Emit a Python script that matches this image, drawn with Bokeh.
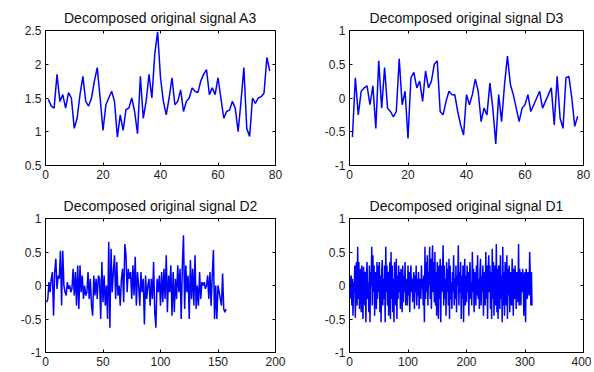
from bokeh.plotting import figure
from bokeh.layouts import column, row
from bokeh.models import Range1d, FixedTicker, LinearAxis
from bokeh.embed import file_html
from bokeh.resources import INLINE

titles = ["Decomposed original signal A3", "Decomposed original signal D3",
          "Decomposed original signal D2", "Decomposed original signal D1"]

a3 = [1.48, 1.38, 1.35, 1.85, 1.45, 1.55, 1.35, 1.58, 1.5, 1.05,
      1.2, 1.55, 1.82, 1.45, 1.38, 1.5, 1.75, 1.95, 1.5, 1.02,
      1.4, 1.5, 1.6, 1.45, 0.92, 1.25, 1.02, 1.33, 1.35, 1.5,
      1.3, 0.97, 1.82, 1.2, 1.45, 1.85, 1.5, 2.15, 2.48, 1.8,
      1.45, 1.25, 1.5, 1.8, 1.4, 1.45, 1.62, 1.3, 1.45, 1.5,
      1.65, 1.6, 1.58, 1.75, 1.85, 1.92, 1.55, 1.65, 1.55, 1.8,
      1.5, 1.2, 1.3, 1.32, 1.45, 1.35, 1.0, 1.45, 1.95, 1.05,
      0.93, 1.5, 1.42, 1.5, 1.52, 1.57, 2.1, 1.9]

d3 = [-0.58, 0.3, -0.25, 0.1, 0.15, 0.18, -0.1, 0.18, -0.45, 0.55,
      -0.15, 0.45, -0.15, -0.2, -0.28, -0.2, 0.58, -0.1, 0.1, -0.6,
      0.3, 0.38, 0.15, 0.25, -0.05, 0.4, 0.15, 0.25, 0.5, 0.55,
      -0.2, -0.25, -0.05, 0.1, 0.05, 0.05, -0.2, -0.4, -0.55, 0.05,
      -0.1, 0.05, 0.28, 0.1, -0.35, -0.15, -0.25, 0.22, -0.15, -0.68,
      0.05, -0.35, 0.2, 0.62, 0.2, 0.05, -0.15, -0.35, -0.15, -0.1,
      0.05, -0.2, -0.1, 0.0, 0.1, -0.15, -0.05, 0.05, 0.15, -0.4,
      0.32, -0.3, -0.45, 0.3, 0.32, 0.0, -0.42, -0.27]

d2 = [-0.25, -0.2, 0.05, -0.1, 0.1, 0.2, -0.45, 0.2, 0.4, -0.05,
      0.15, 0.1, 0.52, -0.3, 0.52, 0.0, -0.1, -0.15, 0.05, -0.05,
      0.0, -0.1, -0.05, 0.25, -0.15, 0.2, -0.3, 0.3, -0.35, 0.3,
      -0.1, 0.15, -0.2, 0.0, -0.15, -0.1, 0.2, -0.2, 0.1, -0.3,
      -0.45, 0.15, -0.15, 0.1, -0.2, 0.15, 0.1, -0.5, 0.35, -0.25,
      0.15, -0.3, 0.0, -0.5, 0.65, -0.63, 0.55, -0.1, 0.2, 0.45,
      -0.2, 0.35, -0.15, 0.0, -0.3, 0.1, 0.25, -0.25, 0.62, 0.45,
      -0.1, 0.25, 0.1, 0.2, -0.2, 0.3, -0.15, 0.43, -0.3, 0.2,
      0.0, -0.3, 0.2, -0.1, 0.1, -0.58, 0.15, -0.2, 0.0, 0.1,
      -0.3, 0.1, -0.2, 0.35, -0.4, -0.63, 0.1, -0.1, 0.15, -0.3,
      0.2, -0.25, 0.25, -0.2, 0.45, -0.4, 0.15, -0.1, 0.3, -0.45,
      0.2, -0.4, 0.1, -0.2, 0.3, -0.1, 0.25, -0.5, 0.3, 0.75,
      -0.35, 0.3, -0.1, 0.15, -0.5, 0.38, -0.2, 0.25, -0.3, 0.45,
      -0.35, 0.0, -0.3, 0.2, -0.2, 0.05, 0.0, 0.05, -0.05, 0.0,
      0.15, -0.2, 0.2, -0.3, 0.15, 0.53, -0.5, 0.0, -0.5, 0.0,
      -0.1, -0.2, -0.3, 0.18, -0.35, -0.4, -0.35]

d1 = [-0.2, 0.1, 0.15, -0.3, 0.1, -0.45, 0.05, -0.1, 0.3, -0.48, 0.2, 0.35,
      -0.3, 0.58, -0.2, 0.35, -0.35, 0.1, 0.25, -0.4, 0.3, -0.1, -0.5, 0.28,
      0.1, -0.3, 0.2, -0.55, 0.15, 0.35, -0.2, 0.05, -0.4, 0.3, -0.55, 0.2,
      0.0, 0.58, -0.3, 0.45, -0.1, 0.3, -0.45, 0.1, 0.2, -0.35, 0.35, -0.2,
      0.3, -0.1, 0.35, -0.4, 0.15, -0.55, 0.2, 0.38, -0.3, 0.1, -0.2, 0.3,
      -0.55, 0.58, -0.1, 0.3, -0.3, 0.2, -0.45, 0.05, 0.35, -0.5, 0.5, -0.2,
      0.3, -0.4, 0.1, -0.55, 0.35, 0.0, -0.3, 0.4, -0.5, 0.15, -0.2, 0.3,
      -0.1, 0.2, -0.35, 0.25, 0.1, -0.4, 0.3, -0.25, 0.15, -0.1, 0.35, -0.3,
      0.1, 0.05, -0.3, 0.3, -0.15, 0.2, -0.4, 0.05, 0.3, -0.1, 0.1, -0.25,
      0.05, 0.2, -0.35, 0.15, -0.1, 0.3, -0.3, 0.1, -0.15, 0.2, -0.35, 0.05,
      0.1, -0.2, 0.3, -0.05, 0.1, -0.3, 0.15, -0.55, 0.58, -0.2, 0.35, -0.1,
      0.45, -0.3, 0.2, 0.0, 0.58, -0.2, 0.4, -0.35, 0.3, 0.6, -0.1, 0.35,
      -0.25, 0.5, -0.3, 0.2, -0.45, 0.35, 0.05, -0.5, 0.3, -0.2, 0.4, -0.55,
      0.3, -0.1, 0.2, 0.6, -0.3, 0.3, -0.2, 0.1, -0.45, 0.35, -0.1, 0.25,
      -0.3, 0.4, -0.5, 0.3, -0.2, 0.05, -0.35, 0.2, -0.1, 0.45, -0.3, 0.1,
      -0.2, 0.3, -0.4, 0.15, 0.0, 0.6, -0.3, 0.2, -0.1, 0.35, -0.5, 0.15,
      -0.2, 0.3, -0.55, 0.1, 0.4, -0.3, 0.15, -0.25, 0.3, -0.1, 0.2, -0.45,
      0.1, 0.35, -0.2, 0.05, -0.3, 0.5, -0.1, 0.25, -0.4, 0.2, 0.05, -0.3,
      0.3, -0.15, 0.45, -0.2, 0.1, -0.35, 0.2, 0.4, -0.3, 0.15, -0.1, 0.3,
      -0.45, 0.2, 0.05, -0.3, 0.5, -0.2, 0.3, -0.5, 0.15, 0.45, -0.1, 0.3,
      -0.35, 0.2, -0.5, 0.55, -0.2, 0.35, -0.45, 0.1, 0.3, -0.3, 0.62, -0.4,
      0.25, -0.5, 0.3, 0.05, -0.35, 0.45, -0.2, 0.15, -0.55, 0.58, -0.3, 0.2,
      -0.45, 0.35, 0.0, -0.3, 0.45, -0.5, 0.25, -0.15, 0.3, -0.4, 0.2, 0.05,
      -0.3, 0.4, 0.1, -0.45, 0.25, -0.2, 0.3, 0.0, -0.35, 0.2, 0.1, -0.25,
      0.62, -0.3, 0.25, 0.05, -0.3, 0.2, -0.1, 0.25, 0.1, -0.45, 0.15, 0.2,
      -0.55, 0.25, 0.05, -0.2, 0.2, 0.1, -0.15, 0.5, 0.15, -0.3, 0.2, -0.3]

xticks_a = [0, 20, 40, 60, 80]
xticks_d2 = [0, 50, 100, 150, 200]
xticks_d1 = [0, 100, 200, 300, 400]
yticks_a3 = [0.5, 1, 1.5, 2, 2.5]
ylabels_a3 = ["0.5", "1", "1.5", "2", "2.5"]
yticks_d = [-1, -0.5, 0, 0.5, 1]
ylabels_d = ["-1", "-0.5", "0", "0.5", "1"]

FONT = "Liberation Sans"


def style_axis(ax, ticks, labels=None, show_labels=True):
    ax.ticker = FixedTicker(ticks=ticks)
    if labels is not None:
        ax.major_label_overrides = {t: l for t, l in zip(ticks, labels)}
    ax.major_tick_in = 3
    ax.major_tick_out = 0
    ax.minor_tick_line_color = None
    ax.axis_line_color = None
    ax.major_tick_line_color = "black"
    ax.major_label_text_font = FONT
    if show_labels:
        ax.major_label_text_color = "#222222"
        ax.major_label_text_font_size = "12px"
        ax.major_label_standoff = 4
    else:
        ax.major_label_text_color = None
        ax.major_label_text_font_size = "1px"
        ax.major_label_standoff = 0


def make(title, ys, xmax, xticks, yrange, yticks, ylabels, fw, fh, left, right, top, bottom):
    p = figure(frame_width=fw, frame_height=fh, output_backend="svg",
               toolbar_location=None, title=title,
               x_range=Range1d(0, xmax), y_range=Range1d(*yrange),
               min_border_left=left, min_border_right=right,
               min_border_top=top, min_border_bottom=bottom)
    p.title.align = "center"
    p.title.text_font = FONT
    p.title.text_font_size = "14px"
    p.title.text_font_style = "normal"
    p.title.text_color = "#111111"
    p.title.standoff = 9
    p.xgrid.visible = False
    p.ygrid.visible = False
    p.outline_line_color = "black"
    p.outline_line_width = 1
    style_axis(p.xaxis[0], xticks, [str(t) for t in xticks])
    style_axis(p.yaxis[0], yticks, ylabels)
    top_ax = LinearAxis()
    style_axis(top_ax, xticks, show_labels=False)
    p.add_layout(top_ax, "above")
    right_ax = LinearAxis()
    style_axis(right_ax, yticks, show_labels=False)
    p.add_layout(right_ax, "right")
    xs = list(range(1, len(ys) + 1))
    p.line(xs, ys, line_color="#0000ff", line_width=1.5)
    return p


p1 = make(titles[0], a3, 80, xticks_a, (0.5, 2.5), yticks_a3, ylabels_a3, 230, 135, 45, 22, 30, 20)
p2 = make(titles[1], d3, 80, xticks_a, (-1, 1), yticks_d, ylabels_d, 234, 135, 52, 8, 30, 20)
p3 = make(titles[2], d2, 200, xticks_d2, (-1, 1), yticks_d, ylabels_d, 230, 134, 45, 22, 33, 18)
p4 = make(titles[3], d1, 400, xticks_d1, (-1, 1), yticks_d, ylabels_d, 234, 134, 52, 8, 33, 18)

layout = column(row(p1, p2), row(p3, p4))

open("out.html", "w").write(file_html(layout, INLINE))
